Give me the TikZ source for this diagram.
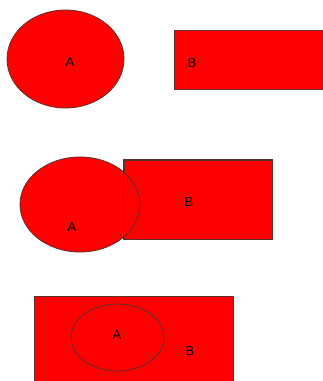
\documentclass[tikz,border=0pt]{standalone}
\usepackage{fontspec}
\setsansfont{Liberation Sans}
\usetikzlibrary{shapes.geometric}
\definecolor{setred}{RGB}{255,0,0}
\definecolor{setedge}{RGB}{95,45,45}

\begin{document}
\begin{tikzpicture}[x=1pt, y=-1pt, font=\sffamily\fontsize{13}{13}\selectfont,
  setA/.style={ellipse, draw=setedge, fill=setred, line width=0.8pt, inner sep=0pt, minimum width=#1},
  setB/.style={rectangle, draw=setedge, fill=setred, line width=0.8pt, inner sep=0pt},
  outline/.style={draw=setedge, line width=0.8pt},
  tag/.style={inner sep=0pt, text=black}]
  \useasboundingbox[fill=white] (0,0) rectangle (323,381);
  \clip (0,0) rectangle (323,381);
  % disjoint sets
  \node[setA=117pt, minimum height=98pt] (A1) at (65.5,59) {};
  \node[setB, minimum width=176pt, minimum height=59pt] (B1) at (262,59.5) {};
  \node[tag] (tA1) at (70,62) {A};
  \node[tag] (tB1) at (192,63) {B};
  % overlapping sets
  \node[setB, minimum width=148pt, minimum height=79pt] (B2) at (198,199.5) {};
  \node[setA=120pt, minimum height=95pt] (A2) at (80,204.5) {};
  \draw[outline] (B2.north west) rectangle (B2.south east);
  \node[tag] (tA2) at (72,227) {A};
  \node[tag] (tB2) at (189,202) {B};
  % subset
  \node[setB, minimum width=199pt, minimum height=110pt] (B3) at (133.5,351) {};
  \node[setA=93pt, minimum height=67pt] (A3) at (117.5,337.5) {};
  \node[tag] (tA3) at (117,335) {A};
  \node[tag] (tB3) at (190,351) {B};
\end{tikzpicture}
\end{document}
